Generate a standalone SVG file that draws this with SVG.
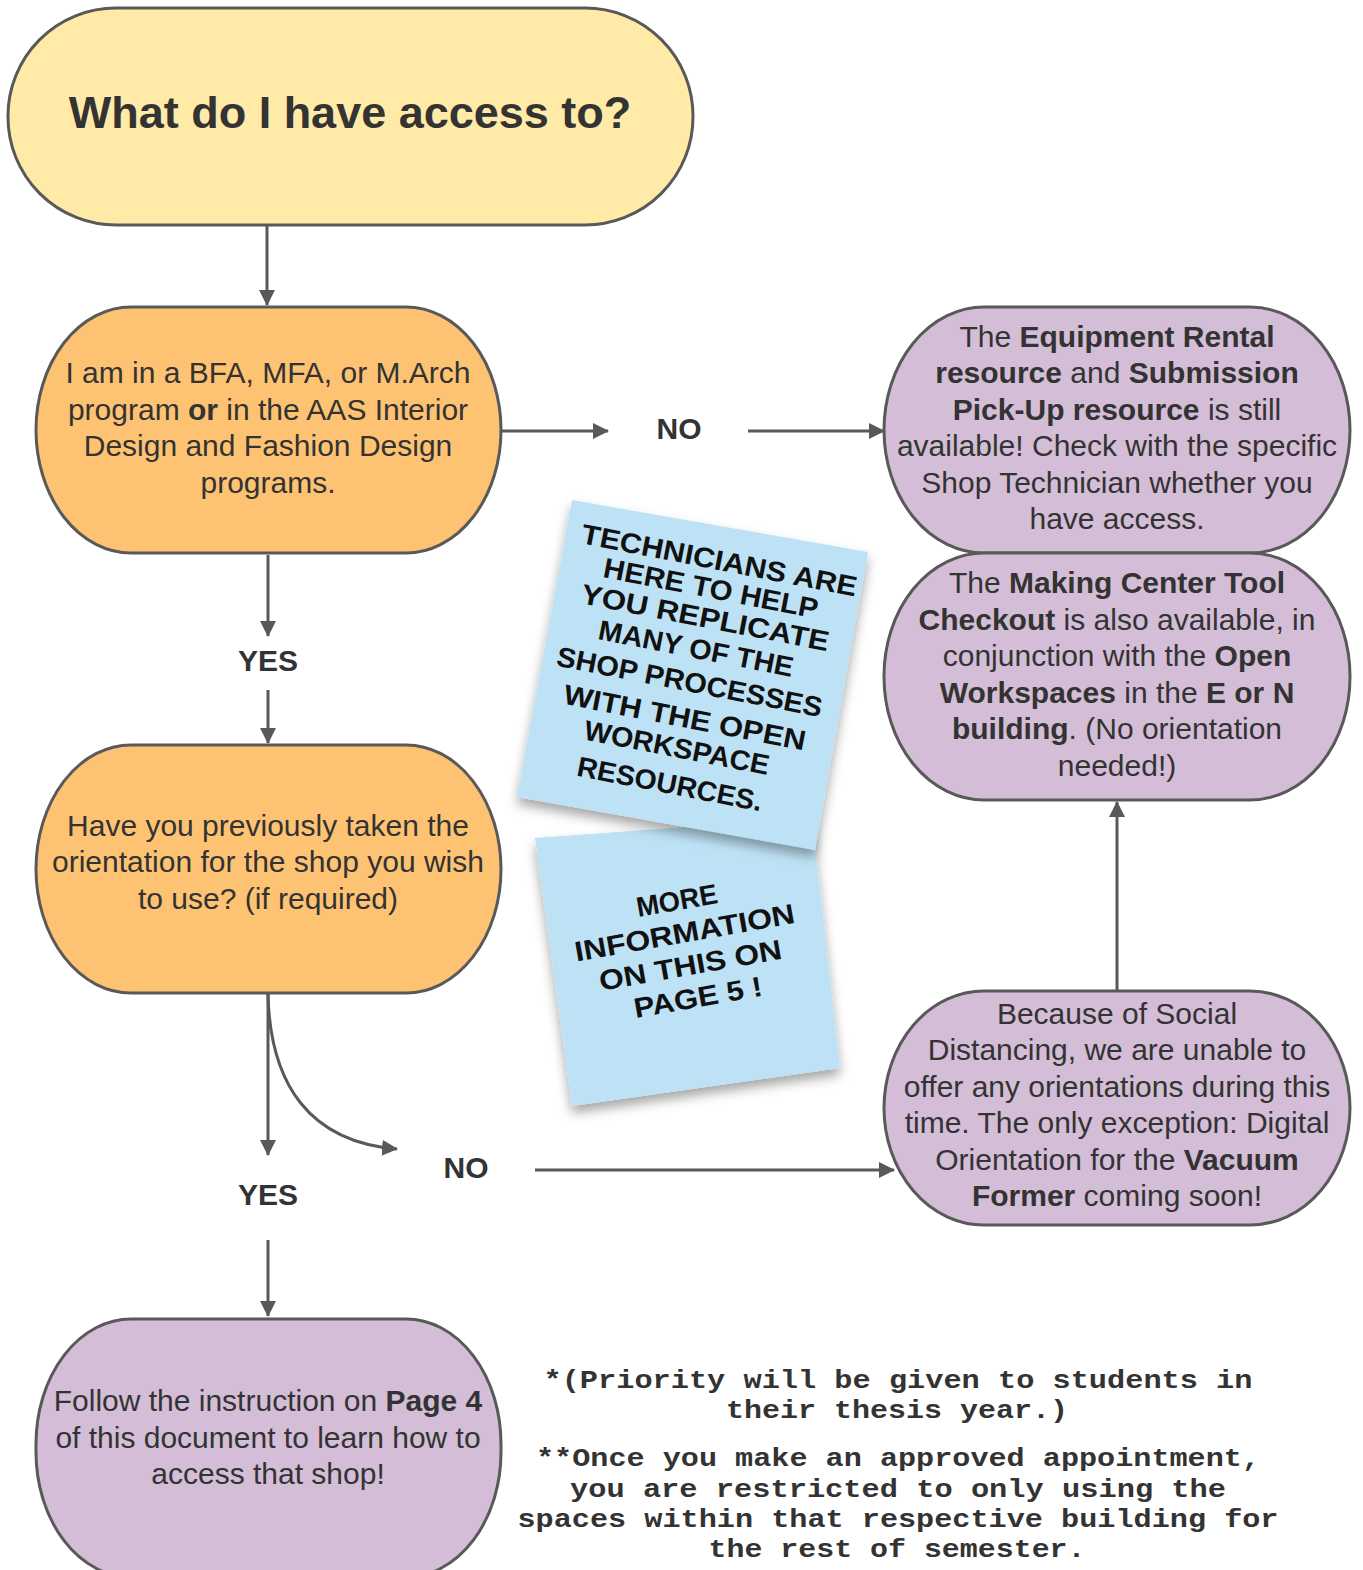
<svg xmlns="http://www.w3.org/2000/svg" width="1363" height="1570" viewBox="0 0 1363 1570">
<defs>
<style>
.n{stroke:#595959;stroke-width:3}
.y{fill:#FFEAA7}
.o{fill:#FEC372}
.p{fill:#D4BDD6}
.t{font-family:"Liberation Sans",Arial,sans-serif;font-size:30px;fill:#333;text-anchor:middle}
.b{font-weight:bold}
.lbl{font-family:"Liberation Sans",Arial,sans-serif;font-size:30px;font-weight:bold;fill:#333;text-anchor:middle}
.c{fill:none;stroke:#595959;stroke-width:3}
.note{fill:#BEE2F5}
.nt{font-family:"Liberation Sans",Arial,sans-serif;font-size:28px;font-weight:bold;fill:#111;text-anchor:middle}
.m{font-family:"Liberation Mono","Courier New",monospace;font-size:25px;font-weight:bold;fill:#333;text-anchor:middle}
</style>
<marker id="ah" markerWidth="16" markerHeight="16" viewBox="0 0 16 16" refX="15" refY="8" orient="auto" markerUnits="userSpaceOnUse">
<path d="M0,0 L16,8 L0,16 Z" fill="#595959"/>
</marker>
<filter id="sh" x="-20%" y="-20%" width="140%" height="140%">
<feDropShadow dx="0" dy="7" stdDeviation="6" flood-color="#000" flood-opacity="0.35"/>
</filter>
</defs>

<g id="connectors">
<line class="c" x1="267" y1="226" x2="267" y2="305" marker-end="url(#ah)"/>
<line class="c" x1="268" y1="555" x2="268" y2="636" marker-end="url(#ah)"/>
<line class="c" x1="268" y1="690" x2="268" y2="743" marker-end="url(#ah)"/>
<line class="c" x1="502" y1="431" x2="608" y2="431" marker-end="url(#ah)"/>
<line class="c" x1="748" y1="431" x2="884" y2="431" marker-end="url(#ah)"/>
<line class="c" x1="268" y1="994" x2="268" y2="1155" marker-end="url(#ah)"/>
<path class="c" d="M268,994 C270,1085 310,1142 397,1149" marker-end="url(#ah)"/>
<line class="c" x1="268" y1="1240" x2="268" y2="1316" marker-end="url(#ah)"/>
<line class="c" x1="535" y1="1170" x2="894" y2="1170" marker-end="url(#ah)"/>
<line class="c" x1="1117" y1="990" x2="1117" y2="802" marker-end="url(#ah)"/>
<text class="lbl" x="679" y="439">NO</text>
<text class="lbl" x="268" y="671">YES</text>
<text class="lbl" x="268" y="1205">YES</text>
<text class="lbl" x="466" y="1178">NO</text>
</g>

<g id="start">
<rect class="n y" x="8" y="8" width="685" height="217" rx="108" ry="108"/>
<text x="350" y="128" style="font-family:'Liberation Sans',Arial,sans-serif;font-size:45px;font-weight:bold;fill:#333;text-anchor:middle">What do I have access to?</text>
</g>

<g id="q1">
<rect class="n o" x="36" y="307" width="465" height="246" rx="95" ry="123"/>
<text class="t" x="268" y="383">I am in a BFA, MFA, or M.Arch</text>
<text class="t" x="268" y="420">program <tspan class="b">or</tspan> in the AAS Interior</text>
<text class="t" x="268" y="456">Design and Fashion Design</text>
<text class="t" x="268" y="493">programs.</text>
</g>

<g id="q2">
<rect class="n o" x="36" y="745" width="465" height="248" rx="95" ry="124"/>
<text class="t" x="268" y="836">Have you previously taken the</text>
<text class="t" x="268" y="872">orientation for the shop you wish</text>
<text class="t" x="268" y="909">to use? (if required)</text>
</g>

<g id="rental">
<rect class="n p" x="884" y="307" width="466" height="246" rx="100" ry="123"/>
<text class="t" x="1117" y="347">The <tspan class="b">Equipment Rental</tspan></text>
<text class="t" x="1117" y="383"><tspan class="b">resource</tspan> and <tspan class="b">Submission</tspan></text>
<text class="t" x="1117" y="420"><tspan class="b">Pick-Up resource</tspan> is still</text>
<text class="t" x="1117" y="456">available! Check with the specific</text>
<text class="t" x="1117" y="493">Shop Technician whether you</text>
<text class="t" x="1117" y="529">have access.</text>
</g>

<g id="toolcheckout">
<rect class="n p" x="884" y="553" width="466" height="247" rx="100" ry="123"/>
<text class="t" x="1117" y="593">The <tspan class="b">Making Center Tool</tspan></text>
<text class="t" x="1117" y="630"><tspan class="b">Checkout</tspan> is also available, in</text>
<text class="t" x="1117" y="666">conjunction with the <tspan class="b">Open</tspan></text>
<text class="t" x="1117" y="703"><tspan class="b">Workspaces</tspan> in the <tspan class="b">E or N</tspan></text>
<text class="t" x="1117" y="739"><tspan class="b">building</tspan>. (No orientation</text>
<text class="t" x="1117" y="776">needed!)</text>
</g>

<g id="distancing">
<rect class="n p" x="884" y="991" width="466" height="234" rx="100" ry="117"/>
<text class="t" x="1117" y="1024">Because of Social</text>
<text class="t" x="1117" y="1060">Distancing, we are unable to</text>
<text class="t" x="1117" y="1097">offer any orientations during this</text>
<text class="t" x="1117" y="1133">time. The only exception: Digital</text>
<text class="t" x="1117" y="1170">Orientation for the <tspan class="b">Vacuum</tspan></text>
<text class="t" x="1117" y="1206"><tspan class="b">Former</tspan> coming soon!</text>
</g>

<g id="follow">
<rect class="n p" x="36" y="1319" width="465" height="258" rx="95" ry="125"/>
<text class="t" x="268" y="1411">Follow the instruction on <tspan class="b">Page 4</tspan></text>
<text class="t" x="268" y="1448">of this document to learn how to</text>
<text class="t" x="268" y="1484">access that shop!</text>
</g>

<g id="note2">
<polygon class="note" points="535,838 812,818 840,1068 572,1106" filter="url(#sh)"/>
<g transform="translate(688,952) rotate(-10)">
<text class="nt" x="-2" y="-43" textLength="82" lengthAdjust="spacingAndGlyphs">MORE</text>
<text class="nt" x="0" y="-10" textLength="223" lengthAdjust="spacingAndGlyphs">INFORMATION</text>
<text class="nt" x="0" y="23" textLength="185" lengthAdjust="spacingAndGlyphs">ON THIS ON</text>
<text class="nt" x="2" y="56" textLength="130" lengthAdjust="spacingAndGlyphs">PAGE 5 !</text>
</g>
</g>

<g id="note1">
<polygon class="note" points="572,500 868,552 815,850 517,797" filter="url(#sh)"/>
<g transform="translate(693,675) rotate(11)">
<text class="nt" x="4" y="-108" textLength="280" lengthAdjust="spacingAndGlyphs">TECHNICIANS ARE</text>
<text class="nt" x="1" y="-79" textLength="218" lengthAdjust="spacingAndGlyphs">HERE TO HELP</text>
<text class="nt" x="1" y="-49" textLength="252" lengthAdjust="spacingAndGlyphs">YOU REPLICATE</text>
<text class="nt" x="-2" y="-17" textLength="198" lengthAdjust="spacingAndGlyphs">MANY OF THE</text>
<text class="nt" x="-2" y="17" textLength="270" lengthAdjust="spacingAndGlyphs">SHOP PROCESSES</text>
<text class="nt" x="0" y="53" textLength="246" lengthAdjust="spacingAndGlyphs">WITH THE OPEN</text>
<text class="nt" x="-2" y="84" textLength="188" lengthAdjust="spacingAndGlyphs">WORKSPACE</text>
<text class="nt" x="-2" y="121" textLength="188" lengthAdjust="spacingAndGlyphs">RESOURCES.</text>
</g>
</g>

<g id="footnotes">
<text class="m" x="898" y="1388" textLength="709" lengthAdjust="spacingAndGlyphs">*(Priority will be given to students in</text>
<text class="m" x="897" y="1418" textLength="342" lengthAdjust="spacingAndGlyphs">their thesis year.)</text>
<text class="m" x="898" y="1466" textLength="724" lengthAdjust="spacingAndGlyphs">**Once you make an approved appointment,</text>
<text class="m" x="898" y="1497" textLength="656" lengthAdjust="spacingAndGlyphs">you are restricted to only using the</text>
<text class="m" x="898" y="1527" textLength="761" lengthAdjust="spacingAndGlyphs">spaces within that respective building for</text>
<text class="m" x="897" y="1557" textLength="377" lengthAdjust="spacingAndGlyphs">the rest of semester.</text>
</g>
</svg>
